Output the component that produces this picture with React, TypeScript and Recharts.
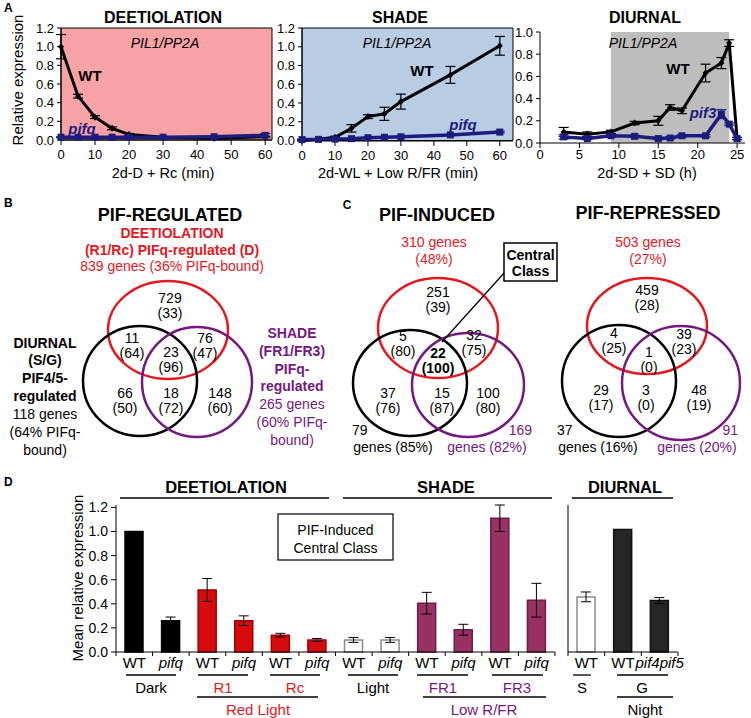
import React from 'react';
import {
  LineChart, Line, XAxis, YAxis, ReferenceArea, ErrorBar,
  BarChart, Bar, Cell, ScatterChart, Scatter,
} from 'recharts';

const FONT = '"Liberation Sans", Arial, Helvetica, sans-serif';
const RED_TXT = '#e3181e';
const RED_LINE = '#e3181e';
const PURPLE = '#74197f';
const NAVY = '#1c1c7e';
const BAR_RED = '#d60b0b';
const BAR_MAROON = '#993163';

// ---------------- Panel A data ----------------
const deetTimes = [0, 5, 10, 15, 20, 30, 45, 60];
const deetWT = [1.0, 0.47, 0.245, 0.125, 0.06, 0.03, 0.02, 0.035];
const deetWTErr = [0.13, 0.02, 0.015, 0.015, 0.01, 0.005, 0.005, 0.005];
const deetPifq = [0.03, 0.03, 0.03, 0.03, 0.03, 0.03, 0.035, 0.05];
const deetPifqErr = [0.005, 0.005, 0.005, 0.005, 0.005, 0.005, 0.005, 0.02];

const shadeTimes = [0, 5, 10, 15, 20, 25, 30, 45, 60];
const shadeWT = [0.0, 0.015, 0.035, 0.13, 0.255, 0.285, 0.415, 0.7, 1.01];
const shadeWTErr = [0.005, 0.005, 0.01, 0.04, 0.02, 0.07, 0.08, 0.09, 0.1];
const shadePifq = [0.01, 0.012, 0.015, 0.02, 0.03, 0.035, 0.04, 0.06, 0.09];
const shadePifqErr = [0.005, 0.005, 0.005, 0.005, 0.005, 0.005, 0.005, 0.005, 0.01];

const diurnalTimes = [3, 6, 9, 12, 15, 16.5, 18, 21, 23, 24, 25];
const diurnalWT = [0.1, 0.08, 0.1, 0.18, 0.2, 0.32, 0.29, 0.63, 0.72, 0.9, 0.04];
const diurnalWTErr = [0.04, 0.02, 0.015, 0.015, 0.04, 0.025, 0.025, 0.08, 0.05, 0.03, 0.01];
const diurnalPif3 = [0.055, 0.04, 0.065, 0.06, 0.04, 0.045, 0.065, 0.065, 0.26, 0.17, 0.04];
const diurnalPif3Err = [0.02, 0.01, 0.01, 0.01, 0.01, 0.01, 0.01, 0.01, 0.04, 0.01, 0.01];
const diurnalDarkStart = 9;
const diurnalDarkEnd = 24;

const minuteTicks = [0, 10, 20, 30, 40, 50, 60];
const hourTicks = [0, 5, 10, 15, 20, 25];
const relTicks12 = [0, 0.2, 0.4, 0.6, 0.8, 1.0, 1.2];
const relTicks10 = [0, 0.2, 0.4, 0.6, 0.8, 1.0];

// ---------------- Panel B / C data (Venn counts, % PIF-bound) ----------------
const vennRegions = ['Deetiolation only', 'Deetiolation+Diurnal', 'All three', 'Deetiolation+Shade', 'Diurnal only', 'Diurnal+Shade', 'Shade only'];
const regulatedCounts = [729, 11, 23, 76, 66, 18, 148];
const regulatedPct = [33, 64, 96, 47, 50, 72, 60];
const inducedCounts = [251, 5, 22, 32, 37, 15, 100];
const inducedPct = [39, 80, 100, 75, 76, 87, 80];
const repressedCounts = [459, 4, 1, 39, 29, 3, 48];
const repressedPct = [28, 25, 0, 23, 17, 0, 19];

// ---------------- Panel D data ----------------
const dCats = ['Dark WT', 'Dark pifq', 'R1 WT', 'R1 pifq', 'Rc WT', 'Rc pifq', 'Light WT', 'Light pifq', 'FR1 WT', 'FR1 pifq', 'FR3 WT', 'FR3 pifq'];
const dLabels = ['WT', 'pifq', 'WT', 'pifq', 'WT', 'pifq', 'WT', 'pifq', 'WT', 'pifq', 'WT', 'pifq'];
const dConditions = ['Dark', 'Dark', 'R1', 'R1', 'Rc', 'Rc', 'Light', 'Light', 'FR1', 'FR1', 'FR3', 'FR3'];
const dValues = [1.0, 0.26, 0.515, 0.26, 0.14, 0.1, 0.1, 0.1, 0.405, 0.185, 1.11, 0.43];
const dErrors = [0, 0.03, 0.095, 0.04, 0.015, 0.012, 0.02, 0.02, 0.09, 0.045, 0.11, 0.14];

const nCats = ['S WT', 'G WT', 'G pif4pif5'];
const nLabels = ['WT', 'WT', 'pif4pif5'];
const nConditions = ['S', 'G', 'G'];
const nValues = [0.45, 1.0, 0.42];
const nErrors = [0.04, 0, 0.025];

const conditionStyle: Record<string, { fill: string; stroke: string }> = {
  Dark: { fill: '#000000', stroke: '#000000' },
  R1: { fill: BAR_RED, stroke: '#a00000' },
  Rc: { fill: BAR_RED, stroke: '#a00000' },
  Light: { fill: '#ffffff', stroke: '#8a8a8a' },
  FR1: { fill: BAR_MAROON, stroke: '#6e1d44' },
  FR3: { fill: BAR_MAROON, stroke: '#6e1d44' },
  S: { fill: '#ffffff', stroke: '#8a8a8a' },
  G: { fill: '#262626', stroke: '#111111' },
};

// ---------------- rows built from arrays ----------------
const toRows = (t: number[], wt: number[], wtE: number[], m: number[], mE: number[]) =>
  t.map((x, i) => ({ t: x, wt: wt[i], wtErr: wtE[i], mut: m[i], mutErr: mE[i] }));
const deetRows = toRows(deetTimes, deetWT, deetWTErr, deetPifq, deetPifqErr);
const shadeRows = toRows(shadeTimes, shadeWT, shadeWTErr, shadePifq, shadePifqErr);
const diurnalRows = toRows(diurnalTimes, diurnalWT, diurnalWTErr, diurnalPif3, diurnalPif3Err);

const dRows = dCats.map((c, i) => ({ cat: c, value: dValues[i], err: dErrors[i] }));
const nRows = nCats.map((c, i) => ({ cat: c, value: nValues[i], err: nErrors[i] }));

// ---------------- Venn layout (page pixel coordinates) ----------------
const vennEllipses = [
  { x: 168, y: 330, rx: 60, ry: 49, c: RED_LINE },
  { x: 140, y: 381, rx: 57, ry: 55, c: '#000' },
  { x: 197, y: 382, rx: 55, ry: 55, c: PURPLE },
  { x: 438, y: 328, rx: 60, ry: 50, c: RED_LINE },
  { x: 410, y: 383, rx: 57, ry: 53, c: '#000' },
  { x: 468, y: 385, rx: 56, ry: 52, c: PURPLE },
  { x: 647, y: 326, rx: 60, ry: 48, c: RED_LINE },
  { x: 619, y: 381, rx: 57, ry: 56, c: '#000' },
  { x: 681, y: 383, rx: 59, ry: 57, c: PURPLE },
];
const vennLabelPos = {
  B: { x: [170, 132, 171, 205, 125, 171, 220], y: [298, 338, 352, 338, 393, 393, 393] },
  C1: { x: [438, 403, 438, 474, 388, 442, 488], y: [292, 336, 353, 335, 393, 393, 393] },
  C2: { x: [647, 614, 649, 684, 601, 646, 699], y: [290, 333, 352, 334, 390, 390, 390] },
};
const vennLabels = [
  ...vennRegions.map((r, i) => ({ x: vennLabelPos.B.x[i], y: vennLabelPos.B.y[i], n: regulatedCounts[i], p: regulatedPct[i], bold: false })),
  ...vennRegions.map((r, i) => ({ x: vennLabelPos.C1.x[i], y: vennLabelPos.C1.y[i], n: inducedCounts[i], p: inducedPct[i], bold: i === 2 })),
  ...vennRegions.map((r, i) => ({ x: vennLabelPos.C2.x[i], y: vennLabelPos.C2.y[i], n: repressedCounts[i], p: repressedPct[i], bold: false })),
];

// ---------------- helpers ----------------
const axisTick = (size: number) => ({ fill: '#000', fontSize: size, fontFamily: FONT });

const diamondDot = (p: any) => {
  const { cx, cy, index } = p;
  if (cx == null || cy == null) return <g key={`dd${index}`} />;
  return <path key={`dd${index}`} d={`M${cx},${cy - 3.5}L${cx + 3},${cy}L${cx},${cy + 3.5}L${cx - 3},${cy}Z`} fill="#000" />;
};
const squareDot = (p: any) => {
  const { cx, cy, index } = p;
  if (cx == null || cy == null) return <g key={`sd${index}`} />;
  return <rect key={`sd${index}`} x={cx - 3.5} y={cy - 3.5} width={7} height={7} fill={NAVY} />;
};

type TCProps = {
  rows: any[]; left: number; width: number; height: number; mTop: number; mRight: number;
  xMax: number; xTicks: number[]; yMax: number; yTicks: number[]; xTickMargin: number;
  bg: { x1: number; x2: number; fill: string; stroke?: string };
};
function TimeCourse({ rows, left, width, height, mTop, mRight, xMax, xTicks, yMax, yTicks, bg, xTickMargin }: TCProps) {
  return (
    <div style={{ position: 'absolute', left, top: 0 }}>
      <LineChart width={width} height={height} data={rows} margin={{ top: mTop, right: mRight, left: 21, bottom: 20 }}>
        <ReferenceArea x1={bg.x1} x2={bg.x2} y1={0} y2={yMax} fill={bg.fill} fillOpacity={1}
          stroke={bg.stroke || 'none'} strokeWidth={1} ifOverflow="visible" />
        <XAxis type="number" dataKey="t" domain={[0, xMax]} ticks={xTicks} interval={0} height={30}
          tickSize={5} tickMargin={xTickMargin} tick={axisTick(13)} axisLine={{ stroke: '#000' }} tickLine={{ stroke: '#000' }} />
        <YAxis type="number" domain={[0, yMax]} ticks={yTicks} interval={0} width={40} tickSize={4} tickMargin={3}
          tickFormatter={(v: number) => v.toFixed(1)} tick={axisTick(13)} axisLine={{ stroke: '#000' }} tickLine={{ stroke: '#000' }} />
        <Line type="linear" dataKey="wt" stroke="#000" strokeWidth={3} dot={diamondDot} activeDot={false} isAnimationActive={false}>
          <ErrorBar dataKey="wtErr" width={5} stroke="#000" strokeWidth={1.2} direction="y" />
        </Line>
        <Line type="linear" dataKey="mut" stroke={NAVY} strokeWidth={3.5} dot={squareDot} activeDot={false} isAnimationActive={false}>
          <ErrorBar dataKey="mutErr" width={5} stroke={NAVY} strokeWidth={1.2} direction="y" />
        </Line>
      </LineChart>
    </div>
  );
}

const makeCatTick = (cats: string[], labels: string[], band: number) => (p: any) => {
  const { x, y, payload } = p;
  const i = cats.indexOf(payload.value);
  const lab = labels[i] ?? '';
  const italic = lab !== 'WT';
  return (
    <g>
      <line x1={x - band / 2} x2={x - band / 2} y1={y - 5} y2={y - 1} stroke="#000" />
      {i === cats.length - 1 && <line x1={x + band / 2} x2={x + band / 2} y1={y - 5} y2={y - 1} stroke="#000" />}
      <text x={x} y={y} dy="0.71em" textAnchor="middle" fontSize={15} fontFamily={FONT} fontStyle={italic ? 'italic' : 'normal'} fill="#000">{lab}</text>
    </g>
  );
};

function ExpressionBars({ rows, cats, labels, conditions, left, width, mLeft, yWidth, showYLabels }: any) {
  const plotW = width - mLeft - yWidth - 10;
  const band = plotW / cats.length;
  return (
    <div style={{ position: 'absolute', left, top: 495 }}>
      <BarChart width={width} height={177} data={rows} margin={{ top: 10, right: 10, left: mLeft, bottom: 0 }}>
        <XAxis dataKey="cat" height={20} interval={0} tickSize={3} tickMargin={2} tickLine={false}
          tick={makeCatTick(cats, labels, band)} axisLine={{ stroke: '#000' }} />
        <XAxis xAxisId="top" orientation="top" dataKey="cat" height={0} tick={false} tickLine={false} axisLine={{ stroke: '#000' }} />
        <YAxis domain={[0, 1.2]} ticks={relTicks12} interval={0} width={yWidth} tickSize={5} tickMargin={3}
          tick={showYLabels ? axisTick(14) : false} tickFormatter={(v: number) => v.toFixed(1)}
          axisLine={{ stroke: '#000' }} tickLine={{ stroke: '#000' }} />
        <YAxis yAxisId="r" orientation="right" domain={[0, 1.2]} width={0} tick={false} tickLine={false} axisLine={{ stroke: '#000' }} />
        <Bar dataKey="value" barSize={18} isAnimationActive={false}>
          {rows.map((r: any, i: number) => (
            <Cell key={r.cat} fill={conditionStyle[conditions[i]].fill} stroke={conditionStyle[conditions[i]].stroke} strokeWidth={1.5} />
          ))}
          <ErrorBar dataKey="err" width={5} stroke="#000" strokeWidth={1} direction="y" />
        </Bar>
      </BarChart>
    </div>
  );
}

function Venn() {
  return (
    <div style={{ position: 'absolute', left: 0, top: 190 }}>
      <ScatterChart width={751} height={270} margin={{ top: 0, right: 0, left: 0, bottom: 0 }}>
        <XAxis type="number" dataKey="x" domain={[0, 751]} hide />
        <YAxis type="number" dataKey="y" domain={[190, 460]} reversed hide />
        <Scatter data={vennEllipses} isAnimationActive={false}
          shape={(p: any) => (
            <ellipse cx={p.cx} cy={p.cy} rx={p.payload.rx} ry={p.payload.ry} fill="none" stroke={p.payload.c} strokeWidth={2.5} />
          )} />
        <Scatter data={vennLabels} isAnimationActive={false}
          shape={(p: any) => (
            <g>
              <text x={p.cx} y={p.cy} textAnchor="middle" dominantBaseline="central" fontSize={14} fontFamily={FONT}
                fontWeight={p.payload.bold ? 'bold' : 'normal'} fill="#000">{p.payload.n}</text>
              <text x={p.cx} y={p.cy + 15} textAnchor="middle" dominantBaseline="central" fontSize={14} fontFamily={FONT}
                fontWeight={p.payload.bold ? 'bold' : 'normal'} fill="#000">({p.payload.p})</text>
            </g>
          )} />
      </ScatterChart>
    </div>
  );
}

const T = ({ x, y, children, size = 14, weight = 'normal', italic = false, fill = '#000', anchor = 'middle', rotate }: any) => (
  <text x={x} y={y} fontSize={size} fontWeight={weight} fontStyle={italic ? 'italic' : 'normal'} fill={fill}
    textAnchor={anchor} dominantBaseline="central" fontFamily={FONT}
    transform={rotate ? `rotate(${rotate} ${x} ${y})` : undefined}>{children}</text>
);

const L = ({ x1, x2, y, c = '#000', w = 1.3 }: any) => <line x1={x1} x2={x2} y1={y} y2={y} stroke={c} strokeWidth={w} />;

function Overlay() {
  return (
    <svg width={751} height={718} style={{ position: 'absolute', left: 0, top: 0, pointerEvents: 'none' }}>
      {/* Panel A */}
      <T x={4} y={8} size={12} weight="bold" anchor="start">A</T>
      <T x={17} y={80} size={15} rotate={-90}>Relative expression</T>
      <T x={163} y={17} size={16} weight="bold">DEETIOLATION</T>
      <T x={400} y={17} size={16} weight="bold">SHADE</T>
      <T x={645} y={17} size={16} weight="bold">DIURNAL</T>
      <T x={165} y={43} size={14} italic>PIL1/PP2A</T>
      <T x={397} y={43} size={14} italic>PIL1/PP2A</T>
      <T x={643} y={43} size={14} italic>PIL1/PP2A</T>
      <T x={90} y={75} size={15} weight="bold">WT</T>
      <T x={422} y={70} size={15} weight="bold">WT</T>
      <T x={678} y={68} size={15} weight="bold">WT</T>
      <T x={82} y={128} size={15} weight="bold" italic fill={NAVY}>pifq</T>
      <T x={463} y={124} size={15} weight="bold" italic fill={NAVY}>pifq</T>
      <T x={703} y={112} size={15} weight="bold" italic fill={NAVY}>pif3</T>
      <T x={163} y={173} size={14.5}>2d-D + Rc (min)</T>
      <T x={398} y={173} size={14.5}>2d-WL + Low R/FR (min)</T>
      <T x={647} y={173} size={14.5}>2d-SD + SD (h)</T>

      {/* Panel B */}
      <T x={4} y={203} size={12} weight="bold" anchor="start">B</T>
      <T x={170} y={215} size={18} weight="bold">PIF-REGULATED</T>
      <T x={172} y={233} size={14} weight="bold" fill={RED_TXT}>DEETIOLATION</T>
      <T x={172} y={250} size={14} weight="bold" fill={RED_TXT}>(R1/Rc) PIFq-regulated (D)</T>
      <T x={172} y={266} size={14} fill={RED_TXT}>839 genes (36% PIFq-bound)</T>
      <T x={45} y={343} weight="bold">DIURNAL</T>
      <T x={45} y={360} weight="bold">(S/G)</T>
      <T x={45} y={378} weight="bold">PIF4/5-</T>
      <T x={45} y={396} weight="bold">regulated</T>
      <T x={45} y={414}>118 genes</T>
      <T x={45} y={432}>(64% PIFq-</T>
      <T x={45} y={450}>bound)</T>
      <T x={292} y={333} weight="bold" fill={PURPLE}>SHADE</T>
      <T x={292} y={351} weight="bold" fill={PURPLE}>(FR1/FR3)</T>
      <T x={292} y={369} weight="bold" fill={PURPLE}>PIFq-</T>
      <T x={292} y={386} weight="bold" fill={PURPLE}>regulated</T>
      <T x={292} y={404} fill={PURPLE}>265 genes</T>
      <T x={292} y={422} fill={PURPLE}>(60% PIFq-</T>
      <T x={292} y={440} fill={PURPLE}>bound)</T>

      {/* Panel C */}
      <T x={347} y={205} size={12} weight="bold">C</T>
      <T x={437} y={215} size={18} weight="bold">PIF-INDUCED</T>
      <T x={434} y={242} fill={RED_TXT}>310 genes</T>
      <T x={434} y={259} fill={RED_TXT}>(48%)</T>
      <T x={648} y={213} size={18} weight="bold">PIF-REPRESSED</T>
      <T x={648} y={242} fill={RED_TXT}>503 genes</T>
      <T x={648} y={259} fill={RED_TXT}>(27%)</T>
      <T x={352} y={430} anchor="start">79</T>
      <T x={393} y={447}>genes (85%)</T>
      <T x={532} y={430} anchor="end" fill={PURPLE}>169</T>
      <T x={487} y={447} fill={PURPLE}>genes (82%)</T>
      <T x={557} y={430} anchor="start">37</T>
      <T x={598} y={447}>genes (16%)</T>
      <T x={738} y={430} anchor="end" fill={PURPLE}>91</T>
      <T x={697} y={447} fill={PURPLE}>genes (20%)</T>
      <line x1={505} y1={272} x2={442} y2={342} stroke="#000" strokeWidth={1.3} />
      <rect x={504} y={243} width={53} height={38} fill="#fff" stroke="#000" strokeWidth={1.5} />
      <T x={530.5} y={255} weight="bold">Central</T>
      <T x={530.5} y={271} weight="bold">Class</T>

      {/* Panel D */}
      <T x={4} y={482} size={12} weight="bold" anchor="start">D</T>
      <T x={77} y={578} size={15} rotate={-90}>Mean relative expression</T>
      <T x={226} y={487} size={16.5} weight="bold">DEETIOLATION</T>
      <L x1={120} x2={329} y={498} />
      <T x={446} y={487} size={16.5} weight="bold">SHADE</T>
      <L x1={343} x2={552} y={498} />
      <T x={625} y={487} size={16.5} weight="bold">DIURNAL</T>
      <L x1={572} x2={673} y={498} />
      <rect x={278} y={514} width={115} height={46} fill="#fff" stroke="#000" strokeWidth={1.2} />
      <T x={335.5} y={530}>PIF-Induced</T>
      <T x={335.5} y={548}>Central Class</T>

      <L x1={126} x2={176} y={675} />
      <T x={151} y={687} size={15}>Dark</T>
      <L x1={198} x2={248} y={675} />
      <T x={223} y={687} size={15} fill={RED_TXT}>R1</T>
      <L x1={270} x2={320} y={675} />
      <T x={295} y={687} size={15} fill={RED_TXT}>Rc</T>
      <L x1={348} x2={398} y={675} />
      <T x={373} y={687} size={15}>Light</T>
      <L x1={417} x2={468} y={675} />
      <T x={443} y={687} size={15} fill={PURPLE}>FR1</T>
      <L x1={492} x2={543} y={675} />
      <T x={517} y={687} size={15} fill={PURPLE}>FR3</T>
      <L x1={573} x2={591} y={675} />
      <T x={582} y={687} size={15}>S</T>
      <L x1={617} x2={668} y={675} />
      <T x={642} y={687} size={15}>G</T>

      <L x1={197} x2={318} y={697} />
      <T x={258} y={709} size={15} fill={RED_TXT}>Red Light</T>
      <L x1={423} x2={546} y={697} />
      <T x={484} y={709} size={15} fill={PURPLE}>Low R/FR</T>
      <L x1={617} x2={673} y={697} />
      <T x={645} y={709} size={15}>Night</T>
    </svg>
  );
}

export default function App() {
  return (
    <div style={{ position: 'absolute', left: 0, top: 0, width: 751, height: 718, background: '#fff', fontFamily: FONT, overflow: 'hidden' }}>
      <TimeCourse rows={deetRows} left={0} width={290} height={190} mTop={28} mRight={18}
        xMax={62} xTicks={minuteTicks} yMax={1.2} yTicks={relTicks12} xTickMargin={5}
        bg={{ x1: 0, x2: 62, fill: '#f7a3a5', stroke: '#000' }} />
      <TimeCourse rows={shadeRows} left={241} width={290} height={191} mTop={28} mRight={18}
        xMax={64} xTicks={minuteTicks} yMax={1.2} yTicks={relTicks12} xTickMargin={5}
        bg={{ x1: 0, x2: 64, fill: '#b8cce4', stroke: '#000' }} />
      <TimeCourse rows={diurnalRows} left={479} width={272} height={193} mTop={32} mRight={6}
        xMax={26} xTicks={hourTicks} yMax={1.0} yTicks={relTicks10} xTickMargin={2}
        bg={{ x1: diurnalDarkStart, x2: diurnalDarkEnd, fill: '#bdbdbd' }} />
      <Venn />
      <ExpressionBars rows={dRows} cats={dCats} labels={dLabels} conditions={dConditions}
        left={60} width={505} mLeft={16} yWidth={40} showYLabels />
      <ExpressionBars rows={nRows} cats={nCats} labels={nLabels} conditions={nConditions}
        left={548} width={140} mLeft={0} yWidth={20} showYLabels={false} />
      <Overlay />
    </div>
  );
}
